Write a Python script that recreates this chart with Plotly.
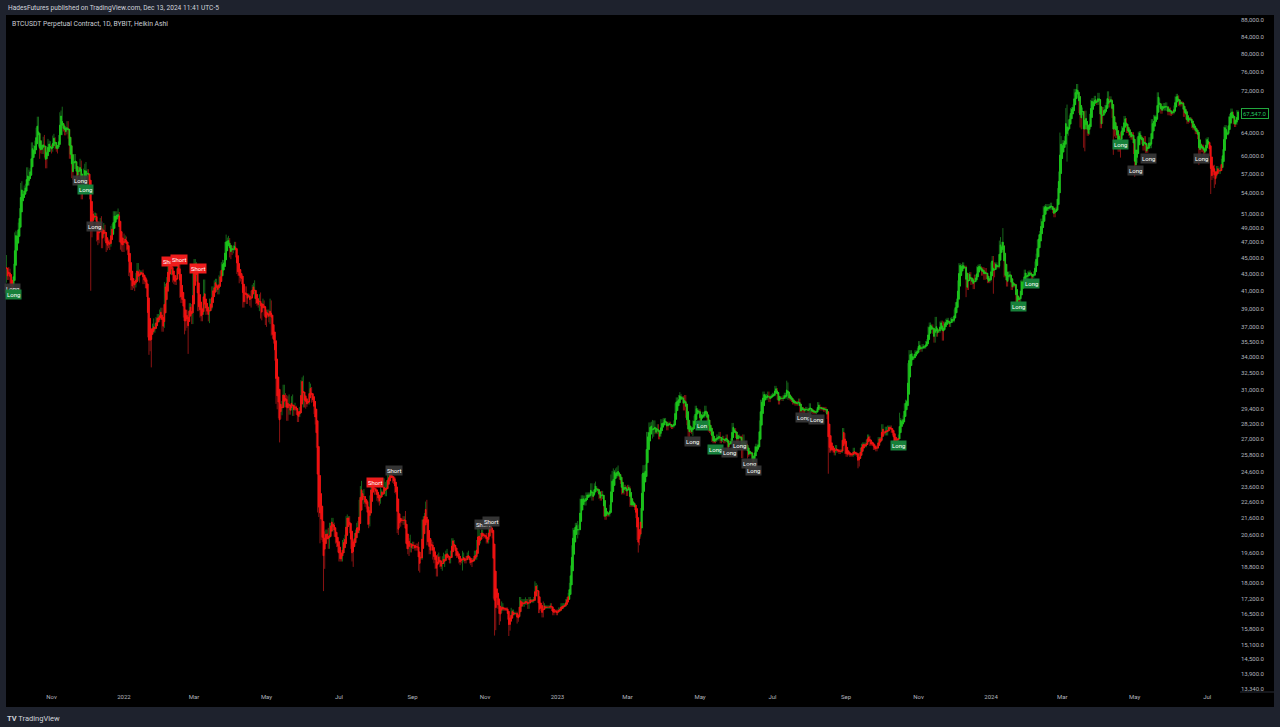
import numpy as np
import pandas as pd
import plotly.graph_objects as go

# ---------------- DATA ----------------
start_date = "2021-09-15"

# daily raw closes, thousands of USDT (BYBIT BTCUSDT perp), Sep 15 2021 -> Jul 27 2024
close_k = [
    48.1,47.8,47.3,48.3,47.3,43.0,40.7,43.6,44.9,42.8,42.7,43.2,42.2,41.0,41.5,43.8,
    48.1,47.7,48.2,49.2,51.5,55.3,53.8,53.9,54.9,54.7,57.5,56.0,57.4,57.3,61.7,60.9,61.5,62.0,64.3,66.0,62.2,60.7,61.3,60.9,63.0,60.3,58.5,60.6,62.3,61.9,61.3,
    61.0,63.2,62.9,61.4,61.0,61.5,63.3,67.5,66.9,64.9,64.9,64.2,64.4,65.5,63.6,60.1,60.4,56.9,58.1,59.7,58.7,56.3,57.6,57.2,58.9,53.6,54.8,57.3,57.8,57.0,
    57.2,56.5,53.6,49.4,49.4,50.6,50.6,50.5,47.6,47.1,49.4,50.1,46.7,48.4,48.9,47.6,46.2,46.9,46.7,46.9,49.0,48.6,50.8,50.4,50.8,50.7,50.7,47.5,46.5,47.1,46.2,
    47.7,47.3,46.4,45.8,43.4,43.1,41.5,41.7,41.9,41.8,42.7,43.9,42.6,43.1,43.2,43.1,42.2,42.4,41.7,40.7,36.5,35.1,36.3,36.7,37.0,36.8,37.2,37.7,38.2,37.9,38.5,
    38.7,36.9,37.3,41.6,41.4,42.4,43.8,44.0,44.4,43.5,42.4,42.2,42.1,42.6,44.6,44.0,40.6,40.0,40.1,38.4,37.0,38.3,37.3,38.3,39.2,39.1,37.7,43.2,
    44.4,44.0,42.5,39.1,39.4,38.4,38.0,38.7,41.9,39.4,38.7,38.8,37.8,39.7,39.3,41.1,40.9,41.8,42.2,41.3,41.0,42.4,42.9,44.0,44.3,44.5,46.8,47.1,47.4,47.1,45.5,
    46.3,45.8,46.4,46.6,45.5,43.2,43.4,42.3,42.8,42.2,39.5,40.1,41.1,39.9,40.5,40.4,39.7,40.8,41.5,41.4,40.5,39.7,39.5,39.5,40.4,38.1,39.2,39.7,38.6,37.6,
    38.5,38.5,37.7,39.7,36.5,36.0,35.5,34.0,30.1,31.0,28.9,29.0,29.3,29.9,31.3,29.8,30.4,28.7,30.3,29.2,29.4,30.3,29.1,29.6,29.5,29.2,28.6,29.0,29.4,31.7,31.8,
    29.8,30.4,29.7,29.9,29.9,31.4,31.1,30.2,30.1,29.1,28.4,26.6,22.5,22.1,22.6,20.4,20.5,19.0,20.6,20.6,20.7,20.0,21.1,21.2,21.5,21.0,20.7,20.3,20.1,19.9,
    19.3,19.2,19.3,20.2,20.2,20.5,21.6,21.6,21.6,20.8,19.9,19.3,20.2,20.6,20.8,21.2,20.8,22.4,23.4,23.2,23.2,22.7,22.4,22.6,21.3,21.2,22.9,23.8,23.8,23.6,23.3,
    23.3,22.9,22.8,22.6,23.3,23.2,23.2,23.8,23.2,23.9,24.0,24.4,24.4,24.3,24.1,23.9,23.3,23.2,20.8,21.1,21.5,21.4,21.5,21.4,21.6,20.2,20.0,19.6,20.3,19.8,20.0,
    20.1,19.9,19.8,20.0,19.8,18.8,19.3,19.3,21.4,21.6,21.8,22.4,20.2,20.2,19.7,19.8,20.1,19.4,19.5,18.9,18.5,19.4,19.3,18.9,18.8,19.2,19.1,19.4,19.6,19.4,
    19.3,19.1,19.6,20.3,20.2,19.9,19.5,19.4,19.4,19.1,19.1,19.2,19.4,19.2,19.1,19.3,19.5,19.3,19.1,19.0,19.2,19.2,19.6,19.3,20.1,20.8,20.3,20.6,20.8,20.6,20.5,
    20.5,20.2,20.2,21.2,21.3,20.9,20.6,18.5,15.9,17.6,17.0,16.8,16.3,16.6,16.9,16.7,16.7,16.7,16.7,16.3,15.8,16.2,16.6,16.6,16.5,16.5,16.5,16.2,16.4,17.2,
    17.0,17.1,16.9,17.1,17.0,17.1,16.8,17.2,17.1,17.1,17.1,17.2,17.8,17.8,17.4,16.6,16.8,16.7,16.4,16.9,16.8,16.8,16.8,16.8,16.8,16.9,16.7,16.5,16.6,16.6,16.5,
    16.6,16.7,16.7,16.9,16.8,16.9,16.9,17.1,17.2,17.4,17.9,18.8,19.9,20.9,20.9,21.2,21.1,20.7,21.1,22.7,22.8,22.7,22.9,22.6,23.1,23.0,23.1,23.0,23.7,22.8,23.1,
    23.7,23.5,23.4,23.3,22.9,22.8,23.2,22.9,21.8,21.6,21.9,21.8,21.8,22.2,24.3,23.5,24.6,24.6,24.3,24.8,24.4,24.2,23.9,23.2,23.2,23.6,23.5,23.1,
    23.6,23.5,22.4,22.4,22.4,22.4,22.2,21.7,20.4,20.2,20.6,22.1,24.2,24.7,24.3,25.0,27.4,26.9,28.0,27.8,28.2,27.3,28.3,27.5,27.5,28.0,27.1,27.3,28.4,28.0,28.5,
    28.5,28.2,27.8,28.2,28.2,28.0,27.9,28.0,28.3,29.7,30.2,29.9,30.4,30.5,30.3,30.3,29.4,30.4,28.8,28.2,27.3,27.8,27.6,27.5,28.3,28.4,29.5,29.3,29.2,29.2,
    28.1,28.7,29.0,28.8,29.5,28.9,28.4,27.7,27.6,27.6,26.9,26.8,26.8,26.9,27.2,27.0,27.4,26.8,26.9,27.1,26.8,26.9,27.2,26.3,26.5,26.7,26.9,28.1,27.7,27.7,27.2,
    26.8,27.2,27.1,27.1,25.7,27.2,26.3,26.5,26.5,25.8,25.9,25.9,25.9,25.1,25.6,26.3,26.5,26.3,26.8,28.3,30.0,29.9,30.7,30.5,30.5,30.3,30.7,30.1,30.4,30.5,
    30.6,30.6,31.2,31.0,30.3,29.9,30.3,30.3,30.2,30.4,30.6,30.4,31.5,30.3,30.3,30.2,30.1,29.9,29.9,29.8,29.9,29.8,30.1,29.2,29.2,29.4,29.2,29.3,29.4,29.3,29.2,
    29.7,29.2,29.2,29.1,29.1,29.1,29.2,29.8,29.6,29.4,29.4,29.4,29.3,29.4,29.2,28.7,26.6,26.1,26.2,26.2,26.1,25.9,26.4,26.1,26.1,26.0,26.1,26.1,27.7,27.3,26.0,
    25.8,25.9,25.9,25.8,25.8,25.8,26.2,25.9,25.9,25.8,25.1,25.8,26.2,26.5,26.6,26.6,26.5,26.8,27.2,27.1,26.6,26.6,26.6,26.3,26.3,26.2,26.4,27.0,27.0,27.0,
    28.0,27.5,27.4,27.8,27.4,27.9,27.9,27.9,27.6,27.4,26.9,26.8,26.9,26.9,27.2,28.5,28.4,28.3,28.7,29.7,30.0,30.0,33.1,34.0,34.5,34.2,33.9,34.1,34.5,34.5,34.7,
    35.4,34.9,34.7,35.1,35.0,35.0,35.4,35.6,36.7,37.3,37.1,37.1,36.5,35.6,37.9,36.2,36.6,36.6,37.4,37.5,35.8,37.4,37.3,37.7,37.8,37.5,37.2,37.8,37.9,37.7,
    38.7,39.5,39.9,42.0,44.1,44.0,43.8,44.2,43.8,43.8,41.3,41.5,42.9,43.0,41.9,42.3,41.4,42.7,42.3,43.7,43.9,44.0,43.7,43.0,43.6,42.5,43.5,42.6,42.1,42.1,42.3,
    44.2,45.0,42.8,44.2,44.2,43.9,43.9,47.0,46.1,46.6,46.4,42.8,42.8,41.7,42.5,43.1,42.7,41.3,41.6,41.7,41.6,39.5,39.8,40.1,39.9,42.0,42.1,42.0,43.3,42.9,42.6,
    43.1,43.2,43.0,42.6,42.7,43.1,44.3,45.3,47.1,47.8,48.3,50.0,49.7,51.8,51.9,52.1,51.6,52.1,51.8,52.3,51.8,51.3,50.7,51.6,51.7,54.5,57.1,62.5,61.2,
    62.4,62.0,63.1,68.3,63.8,66.1,66.9,68.3,68.5,69.0,72.1,71.5,73.1,71.4,69.4,65.3,68.4,67.6,62.0,67.8,65.5,63.8,64.0,67.2,69.9,69.9,69.5,70.7,69.9,69.6,71.3,
    69.6,65.5,66.0,68.5,67.8,68.9,69.4,71.6,69.1,70.6,70.0,67.1,64.0,65.7,63.4,63.8,61.3,63.5,63.8,64.9,64.9,66.8,66.4,64.3,64.5,63.8,63.4,63.1,63.8,60.6,
    58.3,59.1,62.9,63.9,64.0,63.2,62.3,61.2,63.1,60.8,60.8,61.5,62.9,61.6,66.2,65.2,67.0,67.0,66.9,71.4,70.2,69.1,67.9,68.5,69.3,68.5,69.4,68.4,67.6,68.4,67.5,
    67.7,67.8,68.8,70.6,71.1,70.8,69.4,69.3,69.6,69.5,67.3,68.2,66.8,66.0,66.2,66.6,66.5,65.2,64.9,64.8,64.1,64.3,63.2,60.3,61.8,60.9,61.6,60.3,60.9,62.7,
    62.9,62.1,60.2,57.0,56.6,58.2,55.9,56.7,58.0,57.7,57.3,57.9,59.2,60.8,64.8,65.1,64.1,63.9,66.7,67.2,68.2,67.6,65.9,65.4,65.8,67.9,67.9,
]

# upper / lower raw wick beyond the candle body, in steps of 0.5 %
wick_up = [
    2,1,2,1,2,1,2,2,1,2,2,3,2,1,3,2,
    1,2,1,2,1,1,2,2,1,2,2,2,1,2,2,2,1,2,2,3,3,2,1,2,1,2,2,1,2,1,2,
    2,1,2,1,2,1,1,1,2,6,1,2,1,2,2,1,2,2,1,2,2,1,1,2,2,1,2,2,3,4,
    2,2,2,1,2,3,2,2,2,2,1,1,2,2,3,2,2,2,2,2,1,2,2,2,2,2,4,2,2,2,2,
    2,1,2,2,2,1,1,1,1,1,2,2,2,2,1,1,2,1,2,4,2,2,2,1,2,5,1,2,1,1,2,
    2,2,2,2,1,1,3,2,2,3,2,1,1,1,2,1,1,2,1,2,3,2,3,2,2,2,2,2,
    2,2,2,1,1,1,2,2,2,2,2,1,2,2,2,2,2,2,1,1,2,2,2,2,2,1,1,4,1,2,2,
    1,1,1,2,2,1,1,1,1,1,1,1,2,2,1,1,1,1,1,2,4,1,1,1,1,2,1,2,1,1,
    2,2,2,2,1,1,1,1,1,3,2,2,3,1,1,1,2,1,1,2,1,1,2,1,2,1,1,1,1,1,2,
    3,2,1,1,1,2,1,1,1,1,1,1,1,3,2,2,2,1,2,3,2,3,2,1,1,1,3,1,1,1,
    1,1,1,1,2,1,1,2,1,1,1,1,1,1,1,1,2,3,2,5,1,2,2,1,1,1,1,3,3,2,2,
    2,1,2,1,2,1,1,3,1,1,4,1,2,3,3,1,3,1,1,1,1,1,1,2,1,4,1,1,1,3,1,
    1,1,1,1,1,4,1,1,1,1,1,2,3,2,1,1,2,1,1,2,4,1,2,1,1,2,4,1,1,2,
    1,1,1,1,1,1,1,1,1,1,1,1,3,2,1,1,1,2,1,1,1,1,1,1,2,2,1,1,1,1,1,
    1,2,1,1,2,1,1,2,1,3,1,1,1,3,2,1,1,1,1,1,1,1,2,1,1,1,1,1,1,1,
    1,1,1,1,2,1,1,1,1,1,1,1,3,2,1,1,1,1,1,2,1,1,1,1,1,1,1,1,1,1,1,
    1,1,1,1,1,1,1,1,1,1,1,1,1,1,1,1,1,3,1,1,2,2,1,1,1,1,1,1,1,1,1,
    1,2,1,1,1,1,1,1,1,1,1,1,1,2,1,3,2,1,2,1,2,1,1,1,1,1,1,1,
    1,1,1,1,1,1,1,1,1,1,1,1,2,3,3,1,1,1,2,2,1,2,1,1,1,1,1,1,1,1,1,
    1,1,1,1,1,1,1,1,1,1,1,1,1,2,1,1,1,1,1,1,1,1,1,1,1,3,1,1,1,1,
    1,1,1,1,1,1,2,1,1,2,1,1,1,1,1,1,1,1,1,1,1,1,1,1,1,1,1,1,1,1,1,
    1,1,1,1,1,1,1,1,1,1,1,1,1,1,1,1,1,1,1,1,1,1,1,1,1,1,1,1,1,1,
    1,1,1,1,1,1,1,1,1,1,1,1,2,1,1,1,1,1,1,1,1,1,1,1,1,1,1,1,1,1,1,
    1,1,1,1,1,1,1,1,1,1,1,1,1,1,1,1,1,1,1,1,1,1,1,1,1,1,1,1,1,1,1,
    1,1,1,1,1,1,1,1,1,1,1,1,1,1,1,1,1,1,1,1,1,1,1,1,1,1,1,1,1,1,
    1,1,1,1,1,1,1,1,1,1,1,1,1,1,1,4,1,1,1,1,1,1,2,4,1,1,1,1,1,1,1,
    1,1,1,1,1,1,1,1,2,1,1,1,1,1,1,1,1,1,1,1,1,1,1,1,1,1,1,1,1,1,
    1,1,1,1,1,1,1,1,1,1,1,1,1,1,1,1,1,1,1,1,1,1,1,1,1,1,1,1,1,1,1,
    1,1,1,1,1,1,1,1,3,2,10,1,1,1,1,1,1,1,1,1,1,1,1,1,1,1,1,1,1,1,1,
    1,1,1,1,1,1,1,1,1,1,1,1,1,1,1,1,1,1,1,1,1,1,1,1,1,1,1,5,3,
    1,1,1,1,3,1,1,1,1,1,1,1,1,1,1,1,1,1,1,1,1,1,1,1,1,2,2,1,1,1,1,
    1,1,1,1,1,1,1,1,1,1,1,1,1,1,1,1,1,1,1,1,1,1,1,1,1,1,1,1,1,1,
    1,1,1,1,1,1,1,1,1,1,1,1,1,1,1,1,1,1,1,1,1,1,1,1,1,1,1,1,1,1,1,
    1,1,1,1,1,1,1,1,1,1,1,1,1,1,1,1,1,1,1,1,1,1,1,1,1,1,1,1,1,1,
    1,1,1,1,1,1,1,1,1,1,1,1,1,1,1,1,1,1,1,1,1,1,1,1,1,1,1,
]
wick_dn = [
    2,2,2,2,3,2,5,3,2,4,2,2,2,2,3,2,
    2,2,3,2,2,2,3,2,2,2,2,3,3,2,2,3,4,3,2,2,2,4,1,2,2,2,2,2,2,2,2,
    2,1,2,1,1,2,1,1,3,4,2,2,2,2,2,2,2,2,3,1,3,2,3,2,2,2,2,2,3,3,
    2,2,2,34,7,3,2,2,2,2,1,3,2,2,3,2,2,1,2,3,2,2,2,2,2,2,2,2,2,3,2,
    2,2,2,2,3,2,2,2,2,4,2,1,2,3,1,1,2,2,2,2,3,5,3,18,2,2,2,2,1,2,2,
    2,2,2,2,2,1,1,2,2,3,2,2,2,2,1,2,2,2,2,2,4,2,2,16,2,2,2,2,
    2,2,2,2,2,2,2,2,2,2,2,2,1,2,2,2,2,2,2,2,2,2,2,2,2,2,2,2,2,2,2,
    3,2,1,2,2,1,2,2,1,2,2,2,2,2,2,1,2,3,2,2,2,1,1,2,4,1,2,1,2,2,
    3,2,1,2,2,1,1,2,2,5,2,15,3,3,2,2,2,2,2,2,2,1,2,2,2,2,2,2,2,2,2,
    2,2,2,1,1,1,4,2,1,1,2,2,5,4,18,1,2,15,3,2,2,2,2,2,1,2,2,2,2,3,
    2,1,1,2,4,2,1,2,1,1,1,2,5,2,1,1,1,1,2,2,3,2,1,2,1,2,1,2,2,2,2,
    2,2,2,2,1,1,1,1,2,2,1,1,1,1,2,1,1,1,1,2,1,3,1,2,2,1,2,1,2,2,2,
    2,1,1,1,1,2,3,1,1,1,1,1,2,2,2,2,1,2,4,2,2,2,2,1,1,2,1,3,2,1,
    1,1,1,1,1,1,1,1,1,1,2,1,6,1,1,1,1,1,1,1,2,1,1,1,1,1,2,2,1,1,1,
    1,1,1,1,1,1,2,14,5,2,3,1,4,2,1,1,1,1,1,1,4,1,1,1,1,1,1,2,1,1,
    1,1,1,1,1,1,1,1,1,1,1,1,1,1,1,1,1,1,1,1,1,1,1,1,1,1,1,1,1,1,1,
    1,1,1,1,1,1,1,1,1,1,1,1,2,1,2,1,1,3,1,1,1,1,1,2,2,1,1,1,1,1,1,
    1,1,1,1,1,1,1,1,1,1,1,1,1,1,1,1,1,1,1,1,1,1,1,1,1,1,1,1,
    1,1,1,1,1,1,1,1,1,6,2,1,2,1,2,1,1,1,1,2,1,2,1,1,1,1,1,1,1,1,1,
    1,1,1,1,1,1,1,1,1,1,1,1,1,1,1,1,1,1,1,1,1,1,1,1,2,2,1,1,1,1,
    1,1,1,1,1,1,1,1,1,2,1,1,1,1,1,1,1,1,1,1,1,1,1,1,1,1,1,1,1,1,1,
    1,1,1,1,1,1,1,1,1,2,1,1,1,1,2,1,1,1,1,1,1,1,1,1,1,1,1,1,1,1,
    1,1,1,1,1,1,1,1,1,1,1,1,1,1,1,1,1,1,1,1,1,1,1,1,1,1,1,1,1,1,1,
    1,1,1,1,1,1,1,1,1,1,1,1,1,1,1,1,16,1,1,1,1,1,1,1,1,1,1,1,1,1,1,
    1,1,1,1,1,1,1,1,1,1,2,1,1,1,1,1,1,1,1,1,1,1,1,1,1,1,1,1,1,1,
    1,1,1,1,1,1,1,1,1,1,1,1,1,1,1,1,1,1,1,1,1,1,1,1,1,2,1,1,1,1,1,
    1,1,1,1,1,1,1,1,1,1,1,1,1,1,1,1,1,1,1,1,1,1,1,1,1,1,1,1,1,1,
    1,1,1,1,1,1,1,1,1,1,5,1,2,1,1,1,1,1,1,1,1,1,1,1,1,1,1,1,1,1,1,
    1,1,10,1,1,1,1,1,1,1,1,1,1,1,1,1,1,1,1,1,1,1,1,1,1,1,1,1,1,1,1,
    1,1,1,1,1,1,1,1,1,1,1,1,1,1,1,1,1,1,1,1,1,1,1,1,1,1,1,1,1,
    2,1,1,1,15,1,1,1,1,1,2,2,1,2,5,1,2,1,2,4,1,1,1,1,1,1,1,1,1,1,1,
    1,2,2,1,1,1,1,1,1,1,1,1,12,2,1,1,2,2,12,1,1,1,1,1,1,1,1,1,1,1,
    6,4,1,1,1,1,1,1,1,1,1,1,1,1,1,1,1,1,1,1,1,1,1,1,1,1,1,1,1,1,1,
    1,1,1,1,1,1,1,1,1,1,1,1,1,1,1,1,1,1,1,1,1,1,1,6,1,1,1,1,1,1,
    1,1,1,11,2,1,4,2,1,1,1,1,1,1,1,1,1,1,1,1,1,1,1,1,1,1,1,
]

# trend state used for bar colouring (change dates)
trend_change = ["2021-09-15", "2021-09-30", "2021-12-03", "2021-12-23", "2021-12-28",
                "2022-03-25", "2022-04-05", "2023-01-11", "2023-03-08", "2023-03-13",
                "2023-08-17", "2023-10-16", "2024-07-03", "2024-07-14"]
trend_state = ["down", "up", "down", "up", "down",
               "up", "down", "up", "down", "up",
               "down", "up", "down", "up"]

# strategy signal labels
signal_date = ["2021-09-29", "2021-09-30", "2021-11-25", "2021-11-30", "2021-12-07",
               "2022-02-09", "2022-02-16", "2022-03-04", "2022-07-31", "2022-08-16",
               "2022-10-30", "2022-11-06", "2023-04-25", "2023-05-03", "2023-05-14",
               "2023-05-26", "2023-06-03", "2023-06-12", "2023-06-15", "2023-07-27",
               "2023-08-07", "2023-10-15", "2024-01-24", "2024-02-04", "2024-04-19",
               "2024-05-02", "2024-05-13", "2024-06-26"]
signal_price_k = [41.3, 40.6, 56.0, 54.6, 49.1,
                  44.5, 44.8, 43.6, 23.9, 24.7,
                  21.2, 21.4, 26.8, 28.07, 26.2,
                  26.0, 26.5, 25.2, 24.7, 28.7,
                  28.5, 26.5, 39.2, 41.8, 61.9,
                  57.6, 59.5, 59.5]
signal_text = ["Long", "Long", "Long", "Long", "Long",
               "Short", "Short", "Short", "Short", "Short",
               "Short", "Short", "Long", "Lon", "Long",
               "Long", "Long", "Long", "Long", "Long",
               "Long", "Long", "Long", "Long", "Long",
               "Long", "Long", "Long"]
signal_kind = ["dim", "long", "dim", "long", "dim",
               "short", "short", "short", "short", "dim",
               "dim", "dim", "dim", "long", "long",
               "dim", "dim", "dim", "dim", "dim",
               "dim", "long", "long", "long", "long",
               "dim", "dim", "dim"]

price_ticks = [88000, 84000, 80000, 76000, 72000, 64000, 60000, 57000, 54000, 51000,
               49000, 47000, 45000, 43000, 41000, 39000, 37000, 35500, 34000, 32500,
               31000, 29400, 28200, 27000, 25800, 24600, 23600, 22600, 21600, 20600,
               19600, 18800, 18000, 17200, 16500, 15800, 15100, 14500, 13900, 13340]
month_ticks = ["2021-11-01", "2022-01-01", "2022-03-01", "2022-05-01", "2022-07-01",
               "2022-09-01", "2022-11-01", "2023-01-01", "2023-03-01", "2023-05-01",
               "2023-07-01", "2023-09-01", "2023-11-01", "2024-01-01", "2024-03-01",
               "2024-05-01", "2024-07-01"]
month_labels = ["Nov", "2022", "Mar", "May", "Jul", "Sep", "Nov", "2023", "Mar", "May",
                "Jul", "Sep", "Nov", "2024", "Mar", "May", "Jul"]
last_price = 67547.0

# ---------------- HEIKIN ASHI ----------------
n = min(len(close_k), len(wick_up), len(wick_dn))
dates = pd.date_range(start_date, periods=n, freq="D")
c = np.array(close_k[:n]) * 1000.0
o = np.concatenate([[c[0]], c[:-1]])
hi = np.maximum(o, c) * (1 + np.array(wick_up[:n]) * 0.005)
lo = np.minimum(o, c) * (1 - np.array(wick_dn[:n]) * 0.005)
ha_c = (o + hi + lo + c) / 4.0
ha_o = np.empty(n)
ha_o[0] = (o[0] + c[0]) / 2.0
for i in range(1, n):
    ha_o[i] = (ha_o[i - 1] + ha_c[i - 1]) / 2.0
ha_h = np.maximum.reduce([hi, ha_o, ha_c])
ha_l = np.minimum.reduce([lo, ha_o, ha_c])
body_top = np.maximum(ha_o, ha_c)
body_bot = np.minimum(ha_o, ha_c)

chg = pd.to_datetime(trend_change)
state = np.array([trend_state[np.searchsorted(chg, d, side="right") - 1] for d in dates])
up_mask = state == "up"

GREEN, RED = "#1cc41c", "#f01212"
DKGREEN, DKRED = "#16661a", "#8a1313"

fig = go.Figure()
fig.add_trace(go.Candlestick(
    x=dates, open=ha_o, high=ha_h, low=ha_l, close=ha_c,
    increasing=dict(line=dict(color=DKGREEN, width=1), fillcolor=DKGREEN),
    decreasing=dict(line=dict(color=DKRED, width=1), fillcolor=DKRED),
    whiskerwidth=0, hoverinfo="skip", showlegend=False))

for mask, col in [(up_mask, GREEN), (~up_mask, RED)]:
    fig.add_trace(go.Candlestick(
        x=dates,
        open=np.where(mask, ha_o, np.nan), close=np.where(mask, ha_c, np.nan),
        high=np.where(mask, body_top, np.nan), low=np.where(mask, body_bot, np.nan),
        increasing=dict(line=dict(color=col, width=1), fillcolor=col),
        decreasing=dict(line=dict(color=col, width=1), fillcolor=col),
        whiskerwidth=0, hoverinfo="skip", showlegend=False))

# ---------------- LAYOUT ----------------
W, H = 1280, 727
ML, MR, MT, MB = 6, 40, 15, 35
pw, ph = W - ML - MR, H - MT - MB

def px_x(p):
    return (p - ML) / pw

def px_y(p):
    return (H - MB - p) / ph

FONT = "Roboto"
fig.update_layout(
    width=W, height=H,
    margin=dict(l=ML, r=MR, t=MT, b=MB, pad=0),
    paper_bgcolor="#1e222d", plot_bgcolor="#000000",
    showlegend=False,
    font=dict(family=FONT, color="#b2b5be", size=6),
    xaxis=dict(type="date", range=["2021-09-23 15:36", "2024-07-28 15:22"],
               rangeslider=dict(visible=False), showgrid=False, zeroline=False,
               showline=False, ticks="", tickvals=month_ticks, ticktext=month_labels,
               tickfont=dict(size=6, color="#b2b5be"), automargin=False, fixedrange=True),
    yaxis=dict(type="log", range=[4.1213, 4.9506], side="right", showgrid=False,
               zeroline=False, showline=False, ticks="",
               tickvals=price_ticks, ticktext=[f"{v:,.1f}" for v in price_ticks],
               tickfont=dict(size=6, color="#b2b5be"), automargin=False, fixedrange=True),
)

# black chart panel incl. axes area
fig.add_shape(type="rect", xref="paper", yref="paper", x0=px_x(6), x1=px_x(1274),
              y0=px_y(707), y1=px_y(15), fillcolor="#000000", line=dict(width=0), layer="below")
fig.add_shape(type="line", xref="paper", yref="paper", x0=1.0, x1=px_x(1274),
              y0=px_y(692), y1=px_y(692), line=dict(color="#2a2e39", width=1))

label_bg = {"long": "#17803a", "short": "#ee1c1c", "dim": "rgba(58,58,58,0.9)"}
for d, p, t, k in zip(signal_date, signal_price_k, signal_text, signal_kind):
    fig.add_annotation(x=d, y=np.log10(p * 1000.0), xref="x", yref="y", text=t,
                       showarrow=False, xanchor="center", yanchor="middle",
                       font=dict(family=FONT, size=6, color="#ffffff"),
                       bgcolor=label_bg[k], borderpad=1)

# last price label
fig.add_annotation(x=1.0, y=np.log10(last_price), xref="paper", yref="y",
                   text=f"{last_price:,.1f}", showarrow=False, xanchor="left", yanchor="middle",
                   xshift=1, font=dict(family=FONT, size=6, color="#22c55e"),
                   bgcolor="#000000", bordercolor="#22a83e", borderwidth=1, borderpad=1)

# texts around the chart
fig.add_annotation(x=px_x(6), y=px_y(8), xref="paper", yref="paper",
                   text="HadesFutures published on TradingView.com, Dec 13, 2024 11:41 UTC-5",
                   showarrow=False, xanchor="left", yanchor="middle",
                   font=dict(family=FONT, size=6.6, color="#d1d4dc"))
fig.add_annotation(x=px_x(10), y=px_y(24), xref="paper", yref="paper",
                   text="BTCUSDT Perpetual Contract, 1D, BYBIT, Heikin Ashi",
                   showarrow=False, xanchor="left", yanchor="middle",
                   font=dict(family=FONT, size=6.8, color="#c9ccd4"))
fig.add_annotation(x=px_x(5), y=px_y(718), xref="paper", yref="paper",
                   text="<b>TV</b> TradingView",
                   showarrow=False, xanchor="left", yanchor="middle",
                   font=dict(family=FONT, size=7.5, color="#d1d4dc"))

fig.write_html("out.html",
               config={"displayModeBar": False, "staticPlot": True},
               post_script="document.body.style.margin='0';document.body.style.padding='0';"
                           "document.body.style.overflow='hidden';")
